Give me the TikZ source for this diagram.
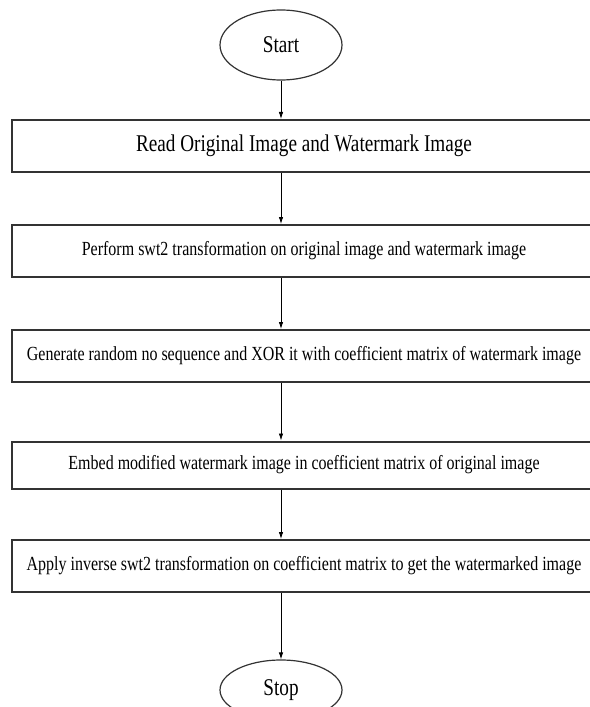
\documentclass[tikz,border=0pt]{standalone}
\usepackage{fontspec}
\setmainfont[FakeStretch=0.8]{Liberation Serif}
\usetikzlibrary{shapes.geometric,arrows.meta}

\begin{document}
\begin{tikzpicture}[x=1bp, y=-1bp,
    terminal/.style={draw=black!80, line width=1.2bp, ellipse, minimum width=122bp,
      minimum height=70bp, inner sep=0pt, font=\fontsize{24bp}{28bp}\selectfont},
    stepbox/.style={draw=black!80, line width=2bp, minimum width=584bp,
      minimum height=52bp, inner sep=0pt, font=\fontsize{20bp}{24bp}\selectfont},
    flow/.style={-{Latex[length=7bp,width=4.5bp]}, line width=0.8bp}]
  \useasboundingbox (0,0) rectangle (590,707);
  % terminals
  \node[terminal] (start) at (281,45)  {Start};
  \node[terminal, minimum height=60bp] (stop) at (281,690) {Stop};
  % steps
  \node[stepbox, font=\fontsize{24bp}{28bp}\selectfont] (read) at (304,146)
    {Read Original Image and Watermark Image};
  \node[stepbox] (swt)   at (304,251) {Perform swt2 transformation on original image and watermark image};
  \node[stepbox] (xor)   at (304,356) {Generate random no sequence and XOR it with coefficient matrix of watermark image};
  \node[stepbox, minimum height=47bp] (embed) at (304,465)
    {Embed modified watermark image in coefficient matrix of original image};
  \node[stepbox] (inv)   at (304,566) {Apply inverse swt2 transformation on coefficient matrix to get the watermarked image};
  % arrows
  \draw[flow] (start) -- (start |- read.north);
  \draw[flow] (read.south -| start) -- (swt.north -| start);
  \draw[flow] (swt.south -| start) -- (xor.north -| start);
  \draw[flow] (xor.south -| start) -- (embed.north -| start);
  \draw[flow] (embed.south -| start) -- (inv.north -| start);
  \draw[flow] (inv.south -| start) -- (stop);
\end{tikzpicture}
\end{document}
